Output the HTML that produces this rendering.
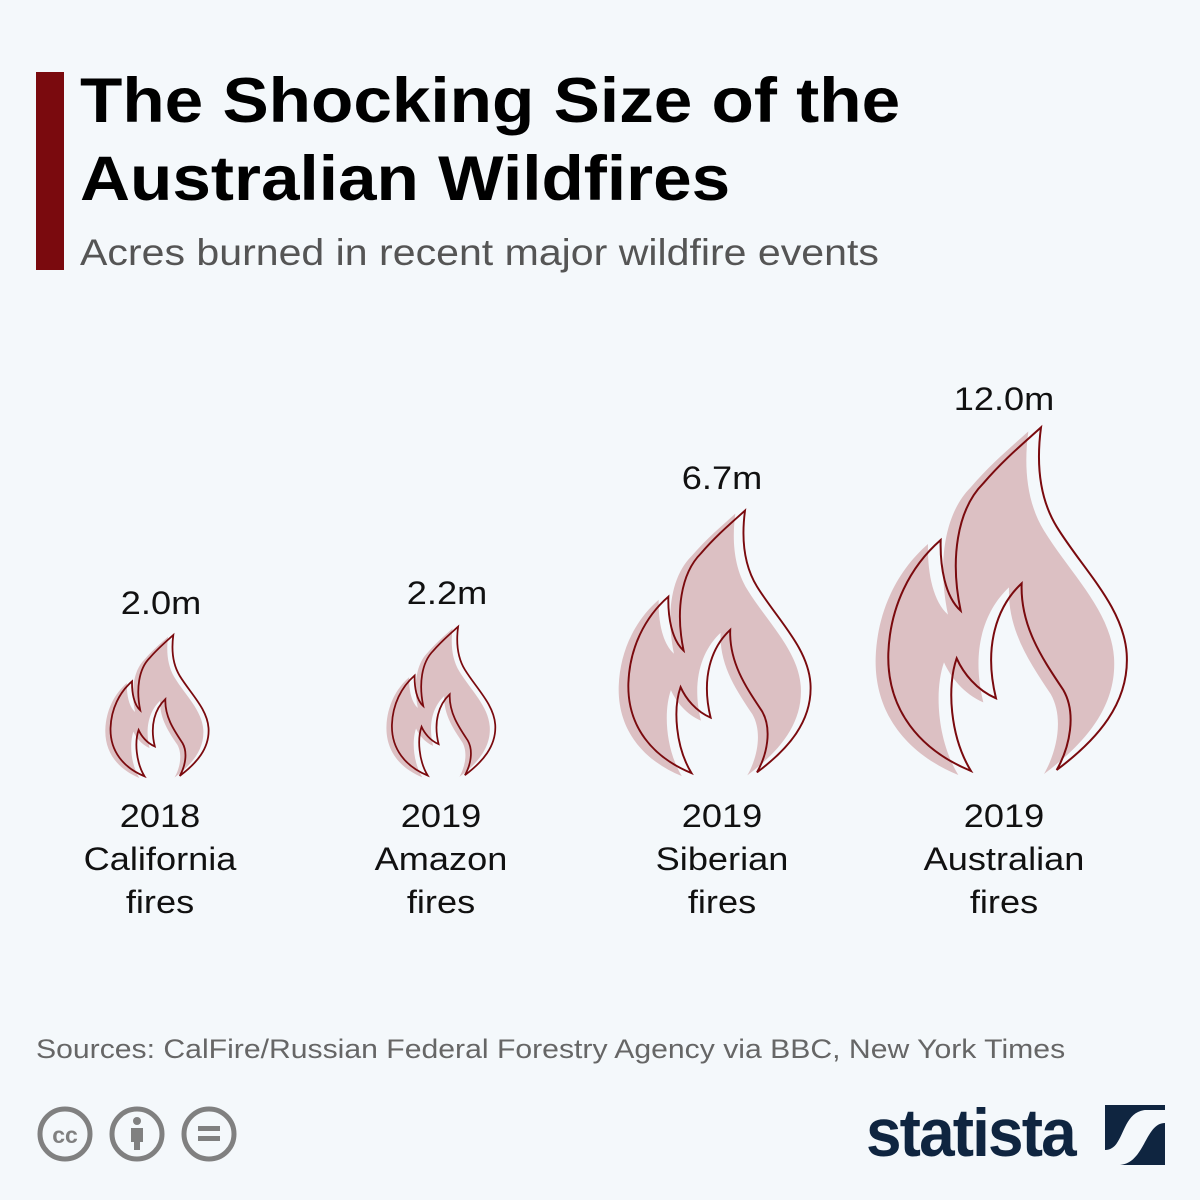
<!DOCTYPE html>
<html><head><meta charset="utf-8"><style>
html,body{margin:0;padding:0}
body{width:1200px;height:1200px;background:#f4f8fb;position:relative;overflow:hidden;font-family:"Liberation Sans","DejaVu Sans",sans-serif}
.a{position:absolute;white-space:nowrap}
.t{left:80px;font-size:63px;font-weight:bold;color:#000;line-height:78px;transform:scaleX(1.1);transform-origin:left}
.c{text-align:center;width:300px;font-size:32px;color:#111;line-height:43px;transform:scaleX(1.13)}
svg.f{position:absolute}
</style></head><body>
<div class="a" style="left:36px;top:72px;width:28px;height:198px;background:#7a0a0e"></div>
<div class="a t" style="top:62px">The Shocking Size of the</div>
<div class="a t" style="top:140px">Australian Wildfires</div>
<div class="a" style="left:80px;top:232px;font-size:37px;color:#555;transform:scaleX(1.11);transform-origin:left">Acres burned in recent major wildfire events</div>

<svg width="0" height="0" style="position:absolute"><defs>
<path id="fl" d="M513,22 C500,120 505,230 560,320 C640,450 760,560 770,700 C780,850 680,960 560,1050 C600,980 620,880 580,810 C520,720 450,620 455,490 C380,560 340,680 378,835 C320,810 280,760 260,715 C230,800 240,950 303,1053 C150,990 50,870 55,700 C60,560 120,440 212,360 C210,440 225,530 272,572 C240,420 260,270 340,190 C400,120 460,70 513,22 Z"/>
</defs></svg>

<svg class="f" style="left:103px;top:632px" width="111" height="148" viewBox="0 0 810 1080"><use href="#fl" transform="translate(-38,12)" fill="#dcc0c3"/><use href="#fl" fill="none" stroke="#7a0a0e" stroke-width="13"/></svg>
<svg class="f" style="left:384px;top:623px" width="117" height="157" viewBox="0 0 810 1080"><use href="#fl" transform="translate(-38,12)" fill="#dcc0c3"/><use href="#fl" fill="none" stroke="#7a0a0e" stroke-width="12"/></svg>
<svg class="f" style="left:614px;top:505px" width="207" height="275" viewBox="0 0 810 1080"><use href="#fl" transform="translate(-38,12)" fill="#dcc0c3"/><use href="#fl" fill="none" stroke="#7a0a0e" stroke-width="7.5"/></svg>
<svg class="f" style="left:870px;top:420px" width="270" height="360" viewBox="0 0 810 1080"><use href="#fl" transform="translate(-38,12)" fill="#dcc0c3"/><use href="#fl" fill="none" stroke="#7a0a0e" stroke-width="6"/></svg>

<div class="a c" style="left:11px;top:582px">2.0m</div>
<div class="a c" style="left:297px;top:572px">2.2m</div>
<div class="a c" style="left:572px;top:457px">6.7m</div>
<div class="a c" style="left:854px;top:378px">12.0m</div>

<div class="a c" style="left:10px;top:795px">2018<br>California<br>fires</div>
<div class="a c" style="left:291px;top:795px">2019<br>Amazon<br>fires</div>
<div class="a c" style="left:572px;top:795px">2019<br>Siberian<br>fires</div>
<div class="a c" style="left:854px;top:795px">2019<br>Australian<br>fires</div>

<div class="a" style="left:36px;top:1034px;font-size:27px;color:#666;transform:scaleX(1.117);transform-origin:left">Sources: CalFire/Russian Federal Forestry Agency via BBC, New York Times</div>

<svg class="f" style="left:34px;top:1104px" width="220" height="60">
<g fill="none" stroke="#808080" stroke-width="5">
<circle cx="31" cy="30" r="25"/><circle cx="103" cy="30" r="25"/><circle cx="175" cy="30" r="25"/></g>
<text x="31" y="39" text-anchor="middle" font-size="23" font-weight="bold" fill="#808080" font-family="Liberation Sans">cc</text>
<circle cx="103" cy="17" r="4" fill="#808080"/><rect x="97" y="24" width="12" height="14" fill="#808080"/><rect x="100" y="36" width="6" height="10" fill="#808080"/>
<rect x="164" y="22" width="22" height="5" fill="#808080"/><rect x="164" y="32" width="22" height="5" fill="#808080"/>
</svg>
<div class="a" style="left:866px;top:1094px;font-size:68px;font-weight:bold;color:#0f2540;letter-spacing:-2px;transform:scaleX(0.94);transform-origin:left">statista</div>
<svg class="f" style="left:1105px;top:1105px" width="60" height="60" viewBox="0 0 60 60"><rect width="60" height="60" fill="#0f2540"/><path d="M0,60 L0,45 C20,45 15,8 40,5 L60,5 L60,18 C40,18 40,58 15,60 Z" fill="#f4f8fb"/></svg>
</body></html>
